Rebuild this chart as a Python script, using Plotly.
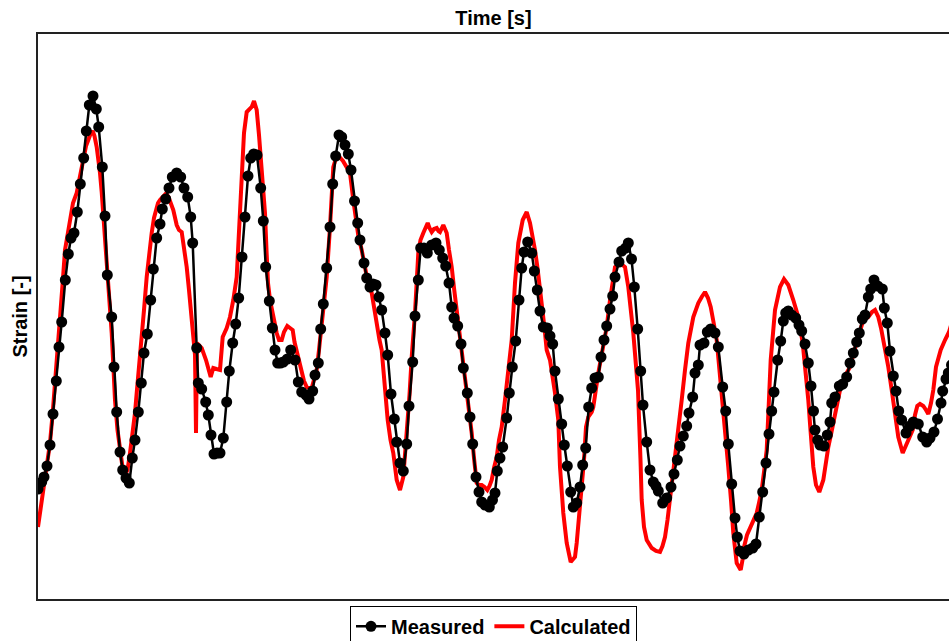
import plotly.graph_objects as go

# Measured series (time in s, strain in arbitrary micro-units)
measured_t = [0.000,0.037,0.060,0.090,0.120,0.150,0.183,0.210,0.237,0.273,0.303,0.330,0.360,0.393,0.423,0.457,0.483,0.513,0.550,0.583,
0.607,0.643,0.670,0.693,0.737,0.760,0.787,0.820,0.847,0.880,0.913,0.943,0.970,1.003,1.033,1.060,1.093,1.127,1.153,1.187,
1.220,1.243,1.277,1.310,1.343,1.387,1.427,1.460,1.497,1.527,1.547,1.587,1.603,1.637,1.677,1.703,1.730,1.760,1.790,1.820,
1.853,1.887,1.913,1.947,1.977,2.007,2.040,2.070,2.100,2.127,2.157,2.190,2.227,2.253,2.277,2.313,2.343,2.370,2.397,2.425,
2.453,2.493,2.527,2.570,2.603,2.637,2.680,2.710,2.747,2.770,2.803,2.827,2.853,2.887,2.920,2.947,2.977,3.010,3.037,3.070,
3.103,3.130,3.165,3.197,3.220,3.260,3.287,3.320,3.350,3.380,3.410,3.437,3.470,3.497,3.530,3.563,3.587,3.620,3.653,3.687,
3.710,3.747,3.770,3.803,3.827,3.860,3.893,3.937,3.980,4.013,4.047,4.077,4.110,4.137,4.160,4.197,4.230,4.253,4.293,4.320,
4.347,4.380,4.410,4.437,4.470,4.513,4.545,4.570,4.593,4.620,4.647,4.687,4.713,4.743,4.777,4.810,4.837,4.860,4.897,4.937,
4.963,4.993,5.020,5.053,5.093,5.120,5.147,5.170,5.203,5.237,5.263,5.293,5.327,5.353,5.387,5.420,5.447,5.477,5.507,5.537,
5.570,5.603,5.630,5.660,5.687,5.720,5.747,5.770,5.810,5.837,5.877,5.903,5.935,5.963,5.997,6.027,6.050,6.087,6.120,6.153,
6.180,6.203,6.247,6.287,6.330,6.360,6.393,6.420,6.453,6.487,6.510,6.547,6.570,6.603,6.620,6.660,6.693,6.727,6.770,6.803,
6.847,6.877,6.903,6.937,6.970,6.993,7.020,7.060,7.103,7.147,7.180,7.213,7.247,7.280,7.310,7.337,7.360,7.397,7.427,7.453,
7.477,7.503,7.537,7.577,7.610,7.637,7.670,7.703,7.730,7.755,7.770,7.797,7.820,7.860,7.893,7.920,7.937,7.970,8.013,8.047,
8.087,8.120,8.153,8.187,8.213,8.243,8.270,8.303,8.327,8.360,8.397,8.443,8.463,8.493,8.520,8.553,8.580,8.607,8.637,8.680,
8.720,8.753,8.803,8.847,8.887,8.920,8.960,8.995,9.030,9.047,9.080,9.103,9.135]
measured_strain = [110,117,122,133,154,185,218,252,277,319,345,361,366,387,415,441,468,494,503,490,
472,432,383,324,282,232,187,147,129,121,116,141,159,187,216,246,265,299,330,361,
375,390,400,411,422,426,422,411,402,382,356,251,216,210,197,184,164,145,146,146,
161,197,228,256,275,301,342,382,423,441,445,444,411,378,332,298,271,249,236,236,
237,240,249,239,217,207,204,200,208,224,236,270,295,331,372,415,443,464,462,454,
445,429,398,376,359,336,321,312,315,314,302,289,266,244,205,180,157,136,128,155,
193,237,283,319,351,351,346,354,356,349,341,333,316,292,281,273,255,231,206,182,
155,122,107,97,94,92,99,106,128,141,152,181,206,232,258,299,331,347,357,346,
328,309,288,272,271,263,255,228,200,175,154,133,107,92,96,112,134,151,192,211,
221,222,242,259,273,290,303,322,337,348,351,356,340,312,270,228,194,157,129,117,
113,108,96,101,112,125,139,153,163,173,186,202,226,234,254,256,267,270,266,252,
212,188,155,115,81,62,48,45,49,51,55,82,107,136,165,188,207,239,258,278,
286,288,284,281,274,268,255,236,213,188,169,159,154,153,164,177,196,202,213,215,
222,236,246,257,266,280,284,302,310,319,313,310,291,276,248,223,208,188,179,166,
173,177,175,162,157,161,167,180,196,208,220,226,234]

# Calculated series
calculated_t = [0.000,0.020,0.047,0.070,0.093,0.120,0.147,0.170,0.195,0.220,0.245,0.270,0.300,0.327,0.350,0.387,0.420,0.453,0.480,0.503,
0.525,0.547,0.565,0.587,0.605,0.620,0.637,0.653,0.670,0.687,0.710,0.737,0.753,0.770,0.795,0.820,0.845,0.870,0.895,0.920,
0.945,0.970,0.987,1.010,1.037,1.060,1.087,1.110,1.137,1.160,1.180,1.200,1.220,1.250,1.280,1.305,1.335,1.353,1.387,1.410,
1.437,1.460,1.487,1.510,1.537,1.570,1.580,1.590,1.637,1.680,1.727,1.753,1.785,1.820,1.847,1.887,1.920,1.953,1.987,2.013,
2.037,2.060,2.087,2.110,2.137,2.160,2.187,2.210,2.237,2.255,2.270,2.285,2.300,2.320,2.350,2.387,2.410,2.437,2.460,2.493,
2.520,2.547,2.565,2.587,2.610,2.637,2.660,2.687,2.710,2.737,2.760,2.787,2.810,2.837,2.860,2.887,2.920,2.940,2.953,2.977,
3.013,3.050,3.087,3.120,3.153,3.180,3.205,3.237,3.270,3.300,3.337,3.365,3.393,3.415,3.437,3.470,3.497,3.525,3.553,3.587,
3.620,3.653,3.675,3.695,3.715,3.737,3.770,3.803,3.825,3.853,3.897,3.915,3.937,3.960,3.987,4.005,4.020,4.053,4.087,4.110,
4.137,4.160,4.187,4.210,4.237,4.260,4.287,4.320,4.337,4.360,4.387,4.410,4.437,4.465,4.493,4.515,4.537,4.560,4.587,4.610,
4.637,4.670,4.700,4.737,4.770,4.803,4.847,4.887,4.920,4.945,4.970,4.995,5.020,5.050,5.070,5.087,5.120,5.145,5.170,5.203,
5.220,5.253,5.287,5.327,5.370,5.387,5.413,5.437,5.460,5.480,5.503,5.537,5.553,5.603,5.653,5.687,5.720,5.753,5.770,5.820,
5.870,5.903,5.953,6.000,6.013,6.025,6.037,6.060,6.087,6.137,6.180,6.220,6.245,6.270,6.295,6.320,6.370,6.413,6.437,6.470,
6.503,6.553,6.603,6.637,6.670,6.700,6.727,6.755,6.787,6.810,6.837,6.860,6.880,6.903,6.930,6.953,6.987,7.027,7.045,7.060,
7.090,7.127,7.155,7.187,7.210,7.237,7.260,7.287,7.305,7.327,7.370,7.420,7.460,7.503,7.553,7.603,7.647,7.680,7.703,7.725,
7.753,7.780,7.813,7.853,7.880,7.903,7.935,7.970,8.020,8.070,8.120,8.160,8.203,8.253,8.303,8.340,8.370,8.403,8.430,8.453,
8.480,8.503,8.537,8.570,8.603,8.647,8.670,8.693,8.720,8.747,8.770,8.793,8.820,8.853,8.880,8.903,8.930,8.953,8.980,9.027,
9.070,9.110,9.140]
calculated_strain = [72,86,102,116,132,156,186,214,244,279,314,349,367,387,396,406,423,442,453,459,
465,468,463,452,441,426,407,386,364,332,299,266,234,199,169,146,132,124,129,146,
164,186,206,229,256,289,322,344,366,381,391,396,399,403,405.5,402,395,389,374,369,
367,351,332,309,282,244,166,256,251,239,222,231,230,229,262,271,282,299,322,374,
432,466,487,490,492,498,489,464,432,404,386,349,316,299,282,266,259,259,267,273,
271,269,257,247,237,226,218,212,211,211,219,229,249,272,299,322,372,409,432,440,
442,438,432,426,399,379,362,349,329,316,306,289,269,259,249,212,179,159,146,119,
109,122,149,179,204,242,286,346,359,366,376,371,367,370,371,368,367,374,366,349,
332,311,289,269,246,229,212,186,166,141,116,114,114,112,109,113,119,131,142,159,
172,199,224,259,316,356,379,387,376,363,349,331,312,284,266,249,239,224,206,179,
132,86,56,37,42,56,82,106,139,172,182,187,192,226,256,272,299,326,332,336,
332,312,266,209,179,139,99,72,59,51,48,47,53,62,79,99,139,172,199,229,
256,282,296,302,307,301,292,277,259,234,206,179,159,132,99,66,36,29,39,52,
64,72,79,86,96,109,127,149,189,239,289,312,320,314,299,282,256,226,199,169,
132,114,107,119,139,152,167,184,209,223,232,247,262,279,282,287,289,282,271,259,
246,232,209,186,162,146,151,156,162,169,184,193,195,193,189,185,196,209,232,249,
259,267,277]

series_names = ["Measured", "Calculated"]

FONT = "Liberation Sans, Arial, Helvetica, sans-serif"

fig = go.Figure()
fig.add_trace(go.Scatter(
    x=calculated_t, y=calculated_strain, mode="lines", name=series_names[1],
    line=dict(color="#ff0000", width=4), legendrank=2))
fig.add_trace(go.Scatter(
    x=measured_t, y=measured_strain, mode="lines+markers", name=series_names[0],
    line=dict(color="#000000", width=2.5),
    marker=dict(color="#000000", size=11, line=dict(width=0)), legendrank=1))

fig.update_layout(
    width=949, height=641,
    margin=dict(l=38, r=0, t=34, b=42, autoexpand=False),
    paper_bgcolor="white", plot_bgcolor="white",
    font=dict(family=FONT, color="black"),
    showlegend=True,
    legend=dict(orientation="h", x=0.5, xanchor="center", y=-0.012, yanchor="top",
                bordercolor="#000000", borderwidth=1, bgcolor="white",
                font=dict(size=20, weight="bold", family=FONT, color="black"),
                itemwidth=30, tracegroupgap=0),
    xaxis=dict(range=[0, 9.11], side="top", showgrid=False, zeroline=False,
               showticklabels=False, ticks="", showline=True, mirror=True,
               linecolor="#222222", linewidth=1.5,
               title=dict(text="Time [s]", standoff=1,
                          font=dict(size=20, weight="bold", family=FONT, color="black"))),
    yaxis=dict(range=[0, 565], showgrid=False, zeroline=False,
               showticklabels=False, ticks="", showline=True, mirror=False,
               linecolor="#222222", linewidth=1.5,
               title=dict(text="Strain [-]", standoff=3,
                          font=dict(size=20, weight="bold", family=FONT, color="black"))),
)

fig.write_html("out.html")
